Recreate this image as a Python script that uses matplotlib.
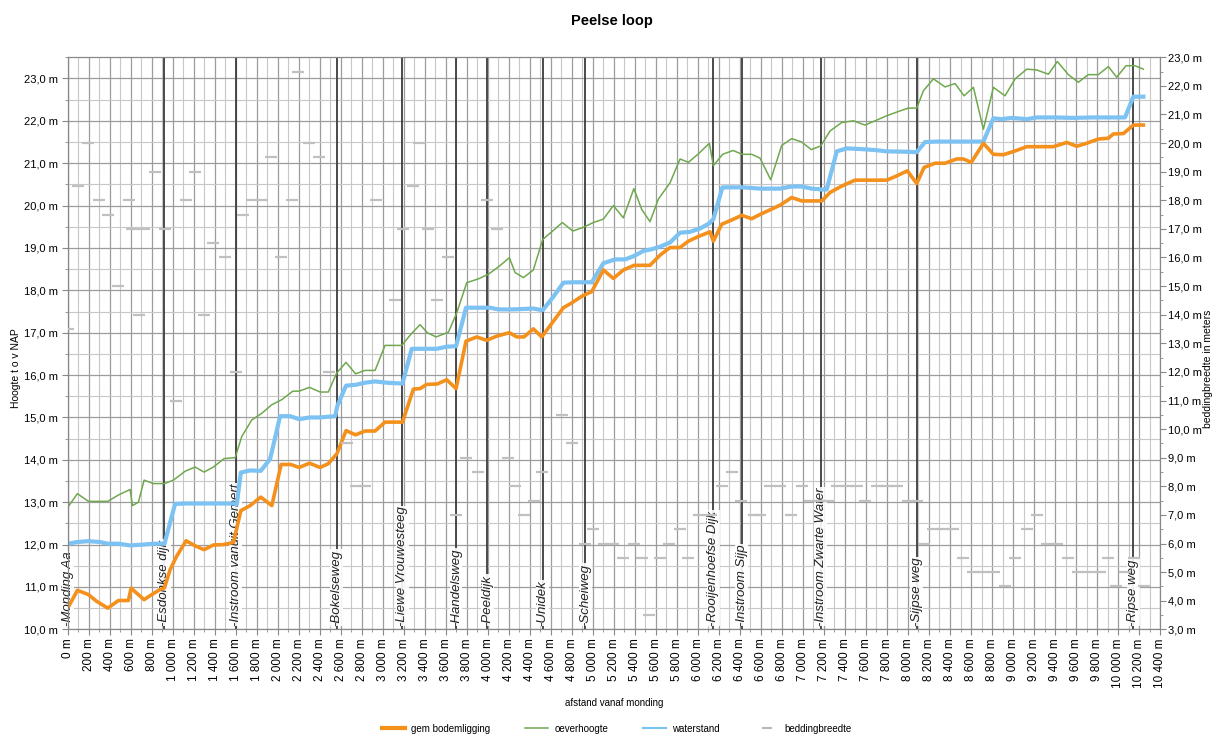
import matplotlib
matplotlib.use("Agg")
import matplotlib.pyplot as plt
from matplotlib.ticker import MultipleLocator, FuncFormatter
from matplotlib.transforms import blended_transform_factory
from matplotlib.lines import Line2D

# ---------------- data ----------------
afstand_bodem = [0, 92, 197, 276, 381, 483, 578, 603, 727, 800, 879, 921, 975, 1038, 1127, 1213,
                 1298, 1387, 1483, 1578, 1648, 1737, 1838, 1943, 2032, 2124, 2203, 2302, 2403,
                 2481, 2562, 2650, 2740, 2831, 2926, 3021, 3187, 3291, 3354, 3418, 3519, 3608,
                 3697, 3792, 3894, 3989, 4085, 4205, 4275, 4344, 4433, 4513, 4624, 4719, 4790,
                 4894, 4989, 5100, 5195, 5290, 5392, 5544, 5639, 5735, 5830, 5909, 6004, 6115,
                 6147, 6227, 6322, 6417, 6512, 6591, 6687, 6782, 6893, 6988, 7179, 7258, 7369,
                 7496, 7798, 7893, 7994, 8083, 8153, 8258, 8353, 8464, 8527, 8603, 8718, 8813,
                 8908, 9020, 9131, 9384, 9512, 9606, 9701, 9812, 9908, 9955, 10051, 10146, 10241]
bodem = [10.50, 10.92, 10.82, 10.66, 10.50, 10.68, 10.68, 10.97, 10.70, 10.82, 10.94, 10.98, 11.41,
         11.73, 12.09, 11.97, 11.88, 11.99, 12.00, 12.05, 12.80, 12.92, 13.12, 12.92, 13.89, 13.89,
         13.82, 13.92, 13.82, 13.91, 14.14, 14.69, 14.59, 14.68, 14.68, 14.89, 14.89, 15.67, 15.68,
         15.78, 15.79, 15.89, 15.68, 16.80, 16.90, 16.82, 16.92, 17.00, 16.90, 16.90, 17.09, 16.90,
         17.27, 17.59, 17.69, 17.86, 17.97, 18.48, 18.28, 18.48, 18.59, 18.59, 18.83, 19.01, 19.01,
         19.16, 19.27, 19.38, 19.16, 19.56, 19.66, 19.77, 19.69, 19.79, 19.90, 20.01, 20.19, 20.11,
         20.11, 20.31, 20.46, 20.60, 20.60, 20.70, 20.82, 20.52, 20.90, 21.00, 21.00, 21.10, 21.10,
         21.02, 21.47, 21.21, 21.20, 21.29, 21.39, 21.39, 21.49, 21.40, 21.47, 21.57, 21.59, 21.69,
         21.70, 21.90, 21.90]

afstand_oever = [0, 92, 197, 381, 483, 594, 616, 673, 727, 816, 921, 1006, 1117, 1213, 1298, 1387,
                 1489, 1594, 1657, 1752, 1848, 1943, 2038, 2143, 2203, 2302, 2403, 2481, 2561, 2650,
                 2740, 2831, 2926, 3021, 3180, 3266, 3354, 3424, 3507, 3624, 3704, 3799, 3909, 4005,
                 4109, 4205, 4259, 4338, 4433, 4522, 4608, 4709, 4808, 4903, 5004, 5100, 5195, 5290,
                 5390, 5465, 5544, 5623, 5735, 5830, 5909, 6004, 6109, 6147, 6235, 6335, 6420, 6512,
                 6591, 6693, 6798, 6893, 6988, 7080, 7170, 7258, 7369, 7480, 7591, 7686, 7798, 7908,
                 8003, 8083, 8147, 8242, 8353, 8448, 8534, 8623, 8718, 8813, 8924, 9020, 9131, 9226,
                 9337, 9422, 9527, 9622, 9717, 9812, 9908, 9987, 10076, 10162, 10241]
oever = [12.88, 13.20, 13.02, 13.02, 13.17, 13.30, 12.92, 13.00, 13.52, 13.44, 13.44, 13.52, 13.73,
         13.83, 13.71, 13.83, 14.03, 14.05, 14.55, 14.94, 15.10, 15.30, 15.42, 15.62, 15.62, 15.71,
         15.60, 15.60, 16.05, 16.30, 16.03, 16.11, 16.11, 16.70, 16.70, 16.96, 17.19, 17.00, 16.90,
         17.01, 17.47, 18.18, 18.27, 18.38, 18.57, 18.77, 18.42, 18.30, 18.48, 19.20, 19.38, 19.60,
         19.40, 19.48, 19.60, 19.68, 20.00, 19.71, 20.40, 19.91, 19.62, 20.15, 20.54, 21.10, 21.02,
         21.22, 21.47, 20.94, 21.21, 21.30, 21.21, 21.21, 21.12, 20.61, 21.42, 21.58, 21.50, 21.32,
         21.41, 21.76, 21.96, 22.00, 21.90, 22.00, 22.12, 22.22, 22.30, 22.30, 22.71, 22.99, 22.80,
         22.88, 22.59, 22.79, 21.80, 22.79, 22.59, 22.99, 23.22, 23.20, 23.10, 23.40, 23.09, 22.91,
         23.09, 23.09, 23.28, 23.03, 23.30, 23.30, 23.22]

afstand_water = [0, 92, 197, 308, 381, 483, 594, 721, 816, 921, 1022, 1133, 1578, 1610, 1648, 1737,
                 1838, 1927, 2022, 2117, 2203, 2302, 2403, 2546, 2568, 2650, 2740, 2831, 2926, 3037,
                 3187, 3275, 3386, 3513, 3608, 3697, 3792, 3894, 4021, 4100, 4243, 4338, 4433, 4522,
                 4624, 4719, 4814, 4989, 5100, 5211, 5306, 5392, 5481, 5560, 5639, 5735, 5830, 5925,
                 6020, 6109, 6147, 6233, 6338, 6433, 6591, 6782, 6893, 6988, 7084, 7179, 7226, 7322,
                 7417, 7575, 7686, 7798, 7988, 8083, 8163, 8274, 8433, 8623, 8718, 8813, 8892, 8987,
                 9131, 9226, 9384, 9575, 9765, 9924, 10066, 10146, 10241]
water = [12.02, 12.06, 12.08, 12.06, 12.02, 12.02, 11.98, 12.00, 12.02, 12.02, 12.96, 12.97, 12.97,
         12.95, 13.70, 13.75, 13.74, 14.02, 15.03, 15.03, 14.96, 15.00, 15.00, 15.03, 15.28, 15.75,
         15.77, 15.82, 15.85, 15.82, 15.80, 16.62, 16.62, 16.62, 16.67, 16.68, 17.59, 17.59, 17.59,
         17.55, 17.55, 17.56, 17.57, 17.53, 17.85, 18.18, 18.19, 18.19, 18.64, 18.73, 18.73, 18.81,
         18.93, 18.97, 19.03, 19.13, 19.36, 19.38, 19.46, 19.58, 19.68, 20.43, 20.43, 20.43, 20.40,
         20.40, 20.45, 20.45, 20.40, 20.38, 20.38, 21.28, 21.35, 21.33, 21.31, 21.28, 21.27, 21.26,
         21.50, 21.51, 21.51, 21.51, 21.51, 22.06, 22.04, 22.07, 22.04, 22.08, 22.08, 22.07, 22.08,
         22.08, 22.08, 22.57, 22.57]

afstand_bedding = [0, 101, 196, 299, 381, 482, 587, 615, 682, 726, 831, 926, 1028, 1126, 1212, 1301,
                   1386, 1498, 1600, 1672, 1752, 1847, 1933, 2031, 2133, 2196, 2297, 2396, 2490,
                   2660, 2740, 2830, 2935, 3116, 3189, 3285, 3345, 3434, 3519, 3624, 3700, 3792,
                   3903, 3989, 4085, 4195, 4259, 4344, 4440, 4515, 4705, 4805, 4925, 5004, 5106,
                   5195, 5284, 5395, 5465, 5538, 5639, 5728, 5825, 5909, 6015, 6120, 6233, 6328,
                   6412, 6530, 6595, 6690, 6780, 6890, 6990, 7068, 7163, 7242, 7322, 7417, 7512,
                   7591, 7703, 7798, 7893, 8003, 8083, 8153, 8242, 8337, 8432, 8527, 8623, 8718,
                   8823, 8924, 9020, 9131, 9226, 9321, 9416, 9527, 9622, 9717, 9828, 9908, 9980,
                   10066, 10155, 10243]
bedding = [13.5, 18.5, 20.0, 18.0, 17.5, 15.0, 18.0, 17.0, 14.0, 17.0, 19.0, 17.0, 11.0, 18.0, 19.0,
           14.0, 16.5, 16.0, 12.0, 17.5, 18.0, 18.0, 19.5, 16.0, 18.0, 22.5, 20.0, 19.5, 12.0, 9.5,
           8.0, 8.0, 18.0, 14.5, 17.0, 18.5, 20.0, 17.0, 14.5, 16.0, 7.0, 9.0, 8.5, 18.0, 17.0, 9.0,
           8.0, 7.0, 7.5, 8.5, 10.5, 9.5, 6.0, 6.5, 6.0, 6.0, 5.5, 6.0, 5.5, 3.5, 5.5, 6.0, 6.5, 5.5,
           7.0, 7.0, 8.0, 8.5, 7.5, 7.0, 7.0, 8.0, 8.0, 7.0, 8.0, 7.5, 7.5, 7.5, 8.0, 8.0, 8.0, 7.5,
           8.0, 8.0, 8.0, 7.5, 7.5, 6.0, 6.5, 6.5, 6.5, 5.5, 5.0, 5.0, 5.0, 4.5, 5.5, 6.5, 7.0, 6.0,
           6.0, 5.5, 5.0, 5.0, 5.0, 5.5, 4.5, 5.0, 5.5, 4.5]

locaties = ["Monding Aa", "Esdonkse dijk", "Instroom vanuit Gemert", "Bokelseweg",
            "Liewe Vrouwesteeg", "Handelsweg", "Peeldijk", "Unidek", "Scheiweg",
            "Rooijenhoefse Dijk", "Instroom Sijp", "Instroom Zwarte Water", "Sijpse weg",
            "Ripse weg"]
locatie_afstand = [0, 920, 1600, 2561, 3186, 3697, 3995, 4522, 4928, 6147, 6417, 7169, 8083, 10146]

# ---------------- figure ----------------
plt.rcParams['font.family'] = ['Liberation Sans', 'DejaVu Sans']
fig = plt.figure(figsize=(12.16, 7.37), dpi=100)
ax = fig.add_axes([0.0557, 0.1461, 0.8983, 0.7762])
ax2 = ax.twinx()

ax.set_xlim(0, 10400)
ax.set_ylim(10, 23.5)
ax2.set_ylim(3, 23.0)

ax.xaxis.set_major_locator(MultipleLocator(200))
ax.xaxis.set_minor_locator(MultipleLocator(100))
ax.yaxis.set_major_locator(MultipleLocator(1))
ax.yaxis.set_minor_locator(MultipleLocator(0.5))
ax2.yaxis.set_major_locator(MultipleLocator(1))
ax2.yaxis.set_minor_locator(MultipleLocator(0.5))

ax.xaxis.set_major_formatter(FuncFormatter(lambda v, p: f"{int(v):,}".replace(",", " ") + " m"))
ax.yaxis.set_major_formatter(FuncFormatter(lambda v, p: f"{v:.1f}".replace(".", ",") + " m"))
ax2.yaxis.set_major_formatter(FuncFormatter(lambda v, p: f"{v:.1f}".replace(".", ",") + " m"))

ax.grid(which='major', color='#9c9c9c', lw=0.9)
ax.grid(which='minor', color='#c8c8c8', lw=0.8)
ax.set_axisbelow(True)

ax.tick_params(axis='x', which='major', labelsize=8.5, length=4, color='#888888', labelrotation=90, pad=2.5)
ax.tick_params(axis='x', which='minor', length=2, color='#888888')
ax.tick_params(axis='y', which='major', labelsize=8, length=4, color='#888888', pad=3)
ax.tick_params(axis='y', which='minor', length=2, color='#888888')
ax2.tick_params(axis='y', which='major', labelsize=8, length=4, color='#888888', pad=1.5)
ax2.tick_params(axis='y', which='minor', length=2, color='#888888')

for a in (ax, ax2):
    for s in a.spines.values():
        s.set_color('#888888')
        s.set_linewidth(0.8)
ax.spines['left'].set_color('#555555')

# location lines and labels
trans = blended_transform_factory(ax.transData, ax.transAxes)
for naam, x in zip(locaties, locatie_afstand):
    ax.axvline(x, color='#3c3c3c', lw=1.3, zorder=2)
    ax.text(x, 0.006, "-" + naam, transform=trans, rotation=90, ha='center', va='bottom',
            fontsize=9.5, style='italic', color='#222222', zorder=3,
            bbox=dict(facecolor='white', edgecolor='none', pad=0.3, alpha=0.9))

# series
ax.plot(afstand_oever, oever, color='#6fa84e', lw=1.1, zorder=4)
ax.plot(afstand_water, water, color='#7cc2f2', lw=3.0, zorder=5)
ax.plot(afstand_bodem, bodem, color='#f4901c', lw=2.6, zorder=6)
ax2.plot(afstand_bedding, bedding, linestyle='none', marker='_', markersize=8, mew=1.6,
         color='#c0c0c0', zorder=3)

# texts
fig.text(0.503, 0.972, "Peelse loop", ha='center', va='center', fontsize=10.5, fontweight='bold')
fig.text(0.505, 0.046, "afstand vanaf monding", ha='center', va='center', fontsize=7)
fig.text(0.013, 0.50, "Hoogte t o v NAP", ha='center', va='center', rotation=90, fontsize=7.5)
fig.text(0.9935, 0.50, "beddingbreedte in meters", ha='center', va='center', rotation=90, fontsize=7.5)

handles = [Line2D([], [], color='#f4901c', lw=3.0),
           Line2D([], [], color='#6fa84e', lw=1.1),
           Line2D([], [], color='#7cc2f2', lw=1.5),
           Line2D([], [], linestyle='none', marker='_', markersize=7, mew=1.5, color='#b9b9b9')]
fig.legend(handles, ["gem bodemligging", "oeverhoogte", "waterstand", "beddingbreedte"],
           loc='center', bbox_to_anchor=(0.507, 0.011), ncol=4, frameon=False, fontsize=7,
           handlelength=2.4, columnspacing=3.6, handletextpad=0.6)

fig.savefig("out.png", dpi=100)
